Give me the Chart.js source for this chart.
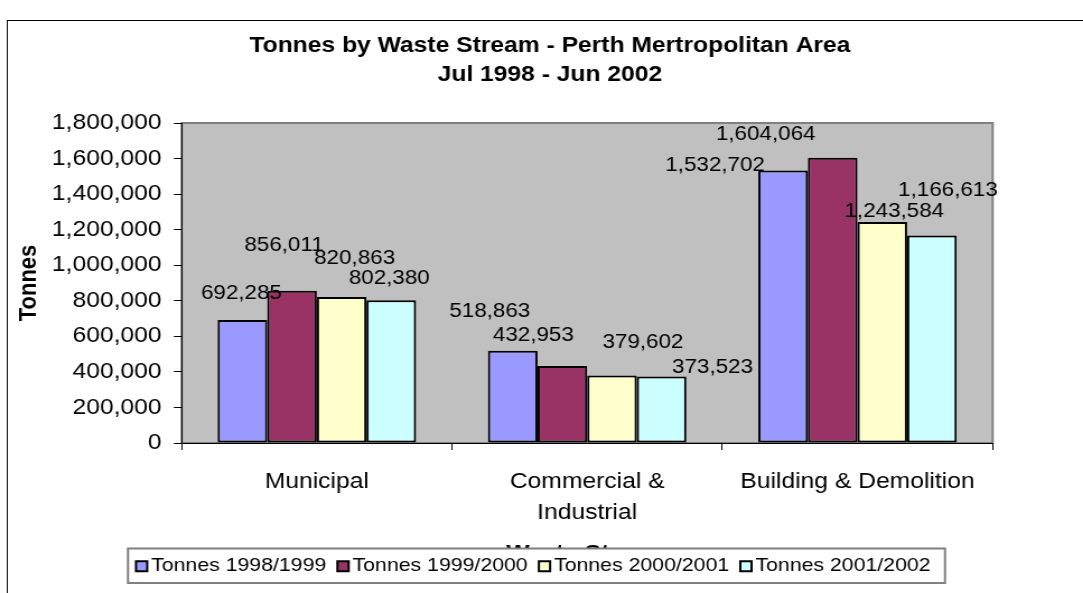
<!DOCTYPE html>
<html>
<head>
<meta charset="utf-8">
<script src="https://cdn.jsdelivr.net/npm/chart.js@4.4.1/dist/chart.umd.min.js"></script>
<style>
  html, body { margin: 0; padding: 0; background: #fff; overflow: hidden; }
  #wrap { width: 967px; height: 593px; transform: scaleX(1.12); transform-origin: 0 0; }
</style>
</head>
<body>
<div id="wrap"><canvas id="c" width="967" height="593"></canvas></div>
<script>
// ---- data ----
const categories = ['Municipal', ['Commercial &', 'Industrial'], 'Building & Demolition'];
const seriesNames = ['Tonnes 1998/1999', 'Tonnes 1999/2000', 'Tonnes 2000/2001', 'Tonnes 2001/2002'];
const tonnes1998_1999 = [692285, 518863, 1532702];
const tonnes1999_2000 = [856011, 432953, 1604064];
const tonnes2000_2001 = [820863, 379602, 1243584];
const tonnes2001_2002 = [802380, 373523, 1166613];
const yMin = 0, yMax = 1800000, yStep = 200000;
const titleLines = ['Tonnes by Waste Stream - Perth Mertropolitan Area', 'Jul 1998 - Jun 2002'];

// ---- styling ----
const SX = 1.12; // horizontal stretch applied by CSS
const seriesColors = ['#9999FF', '#993366', '#FFFFCC', '#CCFFFF'];
// label offsets (screen px) relative to bar top-centre, per series / category
const labelOffsets = [
  [[-1, -26], [-23, -39], [-68, -5]],
  [[-8, -45], [-29, -31], [-67, -23]],
  [[13, -39], [31, -33], [12, -10]],
  [[-2, -22], [51, -9], [16, -45]]
];
const FONT = "'Liberation Sans', Arial, sans-serif";
Chart.defaults.font.family = FONT;
Chart.defaults.color = '#000';

const fmt = v => Number(v).toLocaleString('en-US');

const backgroundPlugin = {
  id: 'bgPlot',
  beforeDraw(chart) {
    const { ctx, chartArea: a } = chart;
    ctx.save();
    ctx.fillStyle = '#fff';
    ctx.fillRect(0, 0, chart.width, chart.height);
    ctx.strokeStyle = '#000';
    ctx.lineWidth = 1;
    ctx.strokeRect(6.5, 20.5, 3000, 3000);
    ctx.fillStyle = '#C0C0C0';
    ctx.fillRect(a.left, a.top, a.right - a.left, a.bottom - a.top);
    ctx.strokeStyle = '#808080';
    ctx.lineWidth = 2;
    ctx.strokeRect(a.left, a.top, a.right - a.left, a.bottom - a.top);
    ctx.restore();
  }
};

const valueLabelPlugin = {
  id: 'valueLabels',
  afterDatasetsDraw(chart) {
    const { ctx } = chart;
    ctx.save();
    ctx.font = '20px ' + FONT;
    ctx.fillStyle = '#000';
    ctx.textAlign = 'center';
    ctx.textBaseline = 'middle';
    chart.data.datasets.forEach((ds, i) => {
      const meta = chart.getDatasetMeta(i);
      meta.data.forEach((bar, j) => {
        const off = labelOffsets[i][j];
        ctx.fillText(fmt(ds.data[j]), bar.x + off[0] / SX, bar.y + off[1]);
      });
    });
    ctx.restore();
  }
};

const legendPlugin = {
  id: 'boxLegend',
  afterDraw(chart) {
    const { ctx } = chart;
    const left = 128 / SX, right = 945 / SX, top = 548.5, bottom = 583;
    ctx.save();
    ctx.fillStyle = '#fff';
    ctx.fillRect(left, top, right - left, bottom - top);
    ctx.strokeStyle = '#808080';
    ctx.lineWidth = 2;
    ctx.strokeRect(left, top, right - left, bottom - top);
    ctx.font = '19px ' + FONT;
    ctx.textBaseline = 'middle';
    ctx.textAlign = 'left';
    let x = 136 / SX;
    const cy = (top + bottom) / 2 + 0.5;
    chart.data.datasets.forEach(ds => {
      ctx.fillStyle = ds.backgroundColor;
      ctx.fillRect(x, cy - 5, 10, 10);
      ctx.strokeStyle = '#000';
      ctx.lineWidth = 2;
      ctx.strokeRect(x, cy - 5, 10, 10);
      ctx.fillStyle = '#000';
      ctx.fillText(ds.label, x + 13.5, cy);
      x += 13.5 + ctx.measureText(ds.label).width + 10;
    });
    ctx.restore();
  }
};

const seriesValues = [tonnes1998_1999, tonnes1999_2000, tonnes2000_2001, tonnes2001_2002];

new Chart(document.getElementById('c'), {
  type: 'bar',
  data: {
    labels: categories,
    datasets: seriesValues.map((vals, i) => ({
      label: seriesNames[i],
      data: vals,
      backgroundColor: seriesColors[i],
      borderColor: '#000',
      borderWidth: 2,
      borderSkipped: false,
      barPercentage: 1,
      categoryPercentage: 0.734
    }))
  },
  options: {
    responsive: false,
    animation: false,
    devicePixelRatio: 1,
    layout: { padding: { left: 15, right: 0, top: 0, bottom: 0 } },
    plugins: {
      legend: { display: false },
      tooltip: { enabled: false },
      title: {
        display: true,
        text: titleLines,
        font: { size: 22, weight: 'bold', lineHeight: 29 / 22 },
        color: '#000',
        padding: { top: 31, bottom: 34 }
      }
    },
    scales: {
      x: {
        grid: { drawOnChartArea: false, drawTicks: true, tickLength: 7, color: '#000', offset: true },
        border: { display: true, color: '#000', width: 1 },
        ticks: { font: { size: 22, lineHeight: 1.45 }, padding: 15.5, color: '#000', maxRotation: 0, autoSkip: false },
        title: { display: true, text: 'Waste Stream', font: { size: 22, weight: 'bold', lineHeight: 1.2 }, padding: { top: 0, bottom: 25.5 }, color: '#000' },
        afterFit(scale) { scale.height = 150; }
      },
      y: {
        min: yMin,
        max: yMax,
        grid: { drawOnChartArea: false, drawTicks: true, tickLength: 7, color: '#000' },
        border: { display: true, color: '#000', width: 1 },
        ticks: { stepSize: yStep, font: { size: 22 }, padding: 11, color: '#000', callback: v => fmt(v) },
        title: { display: true, text: 'Tonnes', font: { size: 22, weight: 'bold', lineHeight: 1 }, padding: { top: 0, bottom: 0 }, color: '#000' },
        afterFit(scale) { scale.width = 147.2; }
      },
      ySpacer: {
        type: 'linear',
        position: 'right',
        display: true,
        grid: { display: false, drawTicks: false },
        border: { display: false },
        ticks: { display: false },
        afterFit(scale) { scale.width = 80.7; }
      }
    }
  },
  plugins: [backgroundPlugin, valueLabelPlugin, legendPlugin]
});
</script>
</body>
</html>
